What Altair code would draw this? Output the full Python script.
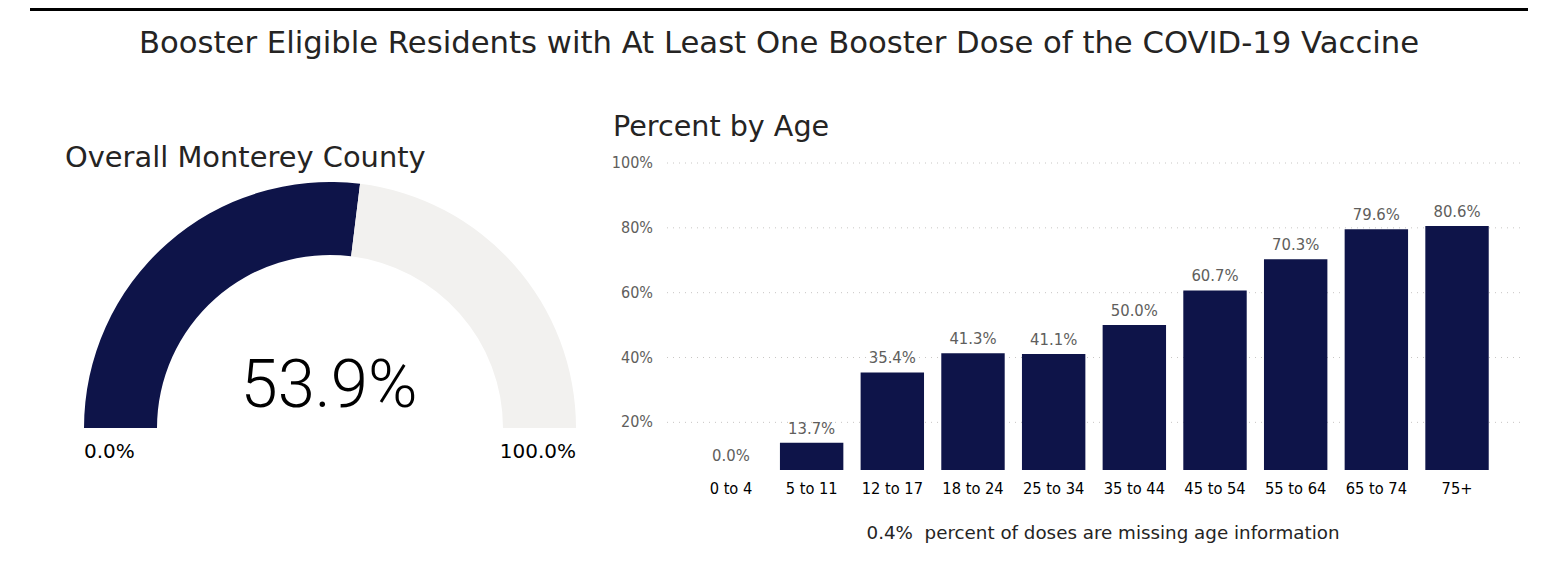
import altair as alt
import pandas as pd

# ---- data ----
ages = ["0 to 4", "5 to 11", "12 to 17", "18 to 24", "25 to 34",
        "35 to 44", "45 to 54", "55 to 64", "65 to 74", "75+"]
pct = [0.0, 13.7, 35.4, 41.3, 41.1, 50.0, 60.7, 70.3, 79.6, 80.6]
overall = 53.9
yticks = [20, 40, 60, 80, 100]
ytick_labels = ["20%", "40%", "60%", "80%", "100%"]
missing = 0.4

title_text = "Booster Eligible Residents with At Least One Booster Dose of the COVID-19 Vaccine"
left_title = "Overall Monterey County"
right_title = "Percent by Age"
footer = f"{missing:.1f}%\u00a0 percent of doses are missing age information"

NAVY = "#0E1449"
LIGHT = "#F2F1EF"
FONT = "DejaVu Sans"
FONT_C = "DejaVu Sans Condensed, DejaVu Sans"

bars_df = pd.DataFrame({"age": ages, "pct": pct})
ticks_df = pd.DataFrame({"tick": yticks, "lab": ytick_labels})
gauge_df = pd.DataFrame({"part": ["value", "rest"], "v": [overall, 100 - overall], "ord": [0, 1]})

xs = alt.Scale(domain=ages, range=[659, 1513], paddingInner=0.214, paddingOuter=0.4)
ys = alt.Scale(domain=[5.3, 100], range=[462, 155], clamp=True, zero=False)

# gauge
gauge = alt.Chart(gauge_df).mark_arc(radius=246, radius2=173).encode(
    x=alt.value(322), y=alt.value(420),
    theta=alt.Theta("v:Q", stack=True, scale=alt.Scale(range=[4.712389, 7.853982])),
    order=alt.Order("ord:Q"),
    color=alt.Color("part:N", scale=alt.Scale(domain=["value", "rest"], range=[NAVY, LIGHT]), legend=None),
)

def one_text(txt, x, y, size, color="#252423", align="left", font=FONT, weight="normal"):
    return alt.Chart(pd.DataFrame({"t": [txt]})).mark_text(
        align=align, baseline="middle", fontSize=size, font=font, color=color, fontWeight=weight
    ).encode(x=alt.value(x), y=alt.value(y), text="t:N")

big = one_text(f"{overall:.1f}%", 321, 379, 67, color="#000000", align="center", font="Roboto", weight=300)
g0 = one_text("0.0%", 76, 444, 20, color="#000000", align="left")
g100 = one_text("100.0%", 568, 444, 20, color="#000000", align="right")

# gridlines and y labels
grid = alt.Chart(ticks_df).mark_rule(color="#C8C6C4", strokeDash=[1, 5], strokeWidth=1).encode(
    y=alt.Y("tick:Q", scale=ys, axis=None), x=alt.value(659), x2=alt.value(1513)
)
ylab = alt.Chart(ticks_df).mark_text(align="right", baseline="middle", fontSize=16, font=FONT_C, color="#605E5C").encode(
    y=alt.Y("tick:Q", scale=ys, axis=None), x=alt.value(645), text="lab:N"
)

bars = alt.Chart(bars_df).mark_bar(color=NAVY).encode(
    x=alt.X("age:N", scale=xs, axis=None, sort=ages),
    y=alt.Y("pct:Q", scale=ys, axis=None),
)
vlabels = alt.Chart(bars_df).transform_calculate(
    lab="format(datum.pct, '.1f') + '%'"
).mark_text(baseline="bottom", dy=-6, fontSize=16.5, font=FONT_C, color="#605E5C").encode(
    x=alt.X("age:N", scale=xs, axis=None, sort=ages),
    y=alt.Y("pct:Q", scale=ys, axis=None),
    text="lab:N",
)
xlabels = alt.Chart(bars_df).mark_text(baseline="middle", fontSize=16.3, font=FONT_C, color="#000000").encode(
    x=alt.X("age:N", scale=xs, axis=None, sort=ages),
    y=alt.value(481),
    text="age:N",
)

topline = alt.Chart(pd.DataFrame({"a": [0]})).mark_rule(color="#000000", strokeWidth=3).encode(
    x=alt.value(22), x2=alt.value(1520), y=alt.value(1.5)
)

t_main = one_text(title_text, 771, 36, 30.7, align="center")
t_left = one_text(left_title, 57, 150, 28.9)
t_right = one_text(right_title, 605, 119, 28.6)
t_foot = one_text(footer, 1095, 526, 18.3, align="center")

chart = alt.layer(
    topline, gauge, big, g0, g100, grid, ylab, bars, vlabels, xlabels,
    t_main, t_left, t_right, t_foot
).properties(
    width=1542, height=548, autosize=alt.AutoSizeParams(type="none"), padding=0
).configure(background="white").configure_view(strokeWidth=0)

chart.save("out.html", embed_options={"renderer": "svg", "actions": False})
